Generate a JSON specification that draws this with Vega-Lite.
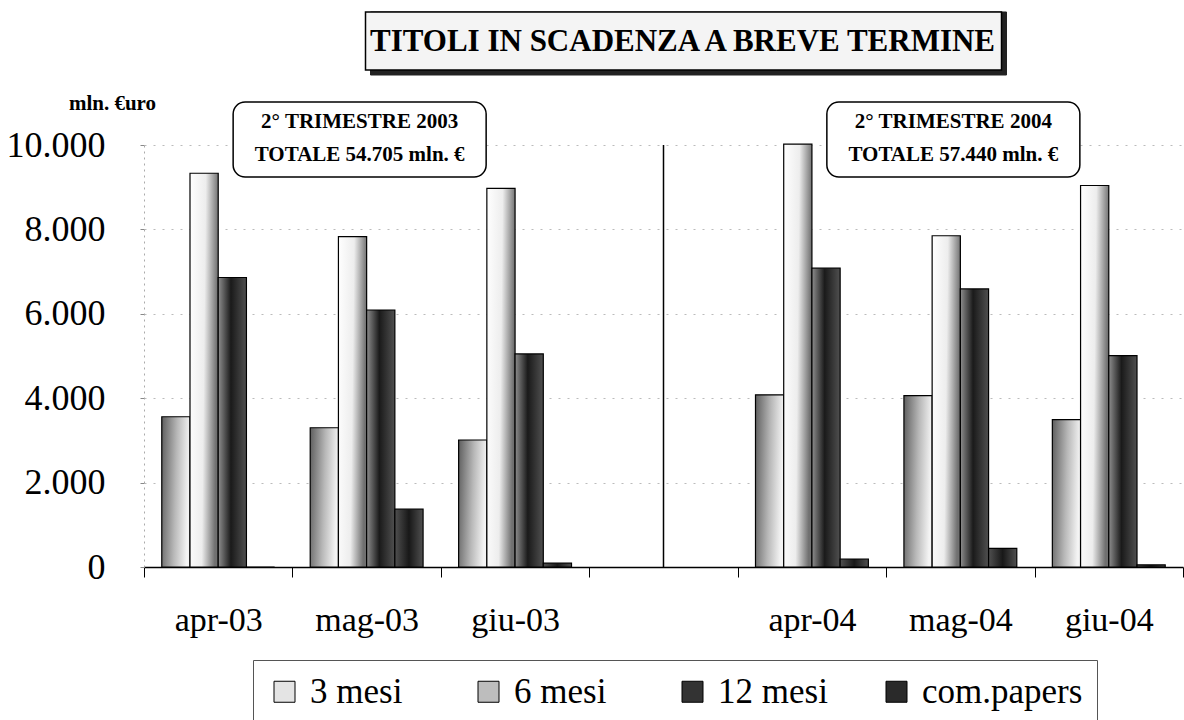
{
  "$schema": "https://vega.github.io/schema/vega-lite/v6.json",
  "autosize": "none",
  "width": 1039,
  "height": 422,
  "padding": {"left": 144, "top": 145, "right": 1, "bottom": 153},
  "background": "white",
  "config": {"view": {"stroke": null}},
  "title": {
    "text": "TITOLI IN SCADENZA A BREVE TERMINE",
    "font": "Liberation Serif",
    "fontSize": 31,
    "fontWeight": "bold",
    "color": "black",
    "anchor": "middle",
    "frame": "group",
    "baseline": "middle",
    "dx": 19,
    "offset": -62
  },
  "datasets": {
    "bars": [
      {"month": "apr-03", "series": "3 mesi", "value": 3560},
      {"month": "apr-03", "series": "6 mesi", "value": 9330},
      {"month": "apr-03", "series": "12 mesi", "value": 6860},
      {"month": "apr-03", "series": "com.papers", "value": 0},
      {"month": "mag-03", "series": "3 mesi", "value": 3300},
      {"month": "mag-03", "series": "6 mesi", "value": 7830},
      {"month": "mag-03", "series": "12 mesi", "value": 6090},
      {"month": "mag-03", "series": "com.papers", "value": 1370},
      {"month": "giu-03", "series": "3 mesi", "value": 3010},
      {"month": "giu-03", "series": "6 mesi", "value": 8970},
      {"month": "giu-03", "series": "12 mesi", "value": 5050},
      {"month": "giu-03", "series": "com.papers", "value": 90},
      {"month": "apr-04", "series": "3 mesi", "value": 4080},
      {"month": "apr-04", "series": "6 mesi", "value": 10020},
      {"month": "apr-04", "series": "12 mesi", "value": 7080},
      {"month": "apr-04", "series": "com.papers", "value": 190},
      {"month": "mag-04", "series": "3 mesi", "value": 4060},
      {"month": "mag-04", "series": "6 mesi", "value": 7850},
      {"month": "mag-04", "series": "12 mesi", "value": 6590},
      {"month": "mag-04", "series": "com.papers", "value": 440},
      {"month": "giu-04", "series": "3 mesi", "value": 3490},
      {"month": "giu-04", "series": "6 mesi", "value": 9040},
      {"month": "giu-04", "series": "12 mesi", "value": 5010},
      {"month": "giu-04", "series": "com.papers", "value": 50}
    ],
    "notes": [
      {"month": "mag-03", "label": "2° TRIMESTRE 2003\nTOTALE  54.705 mln. €"},
      {"month": "mag-04", "label": "2° TRIMESTRE 2004\nTOTALE  57.440 mln. €"}
    ],
    "single": [{"key": "frame"}]
  },
  "encoding": {
    "x": {
      "field": "month",
      "type": "nominal",
      "scale": {
        "domain": ["apr-03", "mag-03", "giu-03", " ", "apr-04", "mag-04", "giu-04"],
        "paddingInner": 0,
        "paddingOuter": 0
      },
      "axis": {
        "title": null,
        "labelAngle": 0,
        "labelFont": "Liberation Serif",
        "labelFontSize": 34,
        "labelColor": "black",
        "labelPadding": 26,
        "tickBand": "extent",
        "tickSize": 10,
        "tickColor": "black",
        "domainColor": "black",
        "domainWidth": 1.5,
        "grid": false
      }
    }
  },
  "layer": [
    {
      "data": {"name": "bars"},
      "mark": {"type": "bar", "stroke": "black", "strokeWidth": 1.2},
      "encoding": {
        "xOffset": {
          "field": "series",
          "type": "nominal",
          "scale": {"domain": ["3 mesi", "6 mesi", "12 mesi", "com.papers"], "paddingInner": 0, "paddingOuter": 0.63}
        },
        "y": {
          "field": "value",
          "type": "quantitative",
          "scale": {"domain": [0, 10000], "nice": false},
          "axis": {
            "values": [0, 2000, 4000, 6000, 8000, 10000],
            "labelExpr": "replace(format(datum.value, ','), ',', '.')",
            "labelFont": "Liberation Serif",
            "labelFontSize": 36,
            "labelColor": "black",
            "labelPadding": 35,
            "ticks": true,
            "tickSize": 4,
            "tickColor": "#888",
            "domainColor": "#aaa",
            "domainDash": [2, 4],
            "grid": true,
            "gridColor": "#bbb",
            "gridDash": [2, 7],
            "title": "mln. €uro",
            "titleAngle": 0,
            "titleFont": "Liberation Serif",
            "titleFontSize": 21,
            "titleFontWeight": "bold",
            "titleColor": "black",
            "titleAlign": "center",
            "titleBaseline": "middle",
            "titleX": -32,
            "titleY": -42
          }
        },
        "fill": {
          "field": "series",
          "type": "nominal",
          "condition": [
            {"test": "datum.series === '3 mesi'", "value": {"gradient": "linear", "x1": 0, "y1": 0, "x2": 1, "y2": 0.15, "stops": [{"offset": 0, "color": "#5e5e5e"}, {"offset": 0.55, "color": "#b8b8b8"}, {"offset": 1, "color": "#f4f4f4"}]}},
            {"test": "datum.series === '6 mesi'", "value": {"gradient": "linear", "x1": 0, "y1": 0, "x2": 1, "y2": 0.15, "stops": [{"offset": 0, "color": "#ffffff"}, {"offset": 0.55, "color": "#ededed"}, {"offset": 1, "color": "#707070"}]}},
            {"test": "datum.series === '12 mesi'", "value": {"gradient": "linear", "x1": 0, "y1": 0, "x2": 1, "y2": 0, "stops": [{"offset": 0, "color": "#8e8e8e"}, {"offset": 0.45, "color": "#1a1a1a"}, {"offset": 1, "color": "#505050"}]}},
            {"test": "datum.series === 'com.papers'", "value": {"gradient": "linear", "x1": 0, "y1": 0, "x2": 1, "y2": 0, "stops": [{"offset": 0, "color": "#505050"}, {"offset": 0.5, "color": "#181818"}, {"offset": 1, "color": "#505050"}]}}
          ],
          "scale": {
            "domain": ["3 mesi", "6 mesi", "12 mesi", "com.papers"],
            "range": ["#e4e4e4", "#bdbdbd", "#333333", "#2a2a2a"]
          },
          "legend": {
            "title": null,
            "orient": "none",
            "legendX": 109,
            "legendY": 515,
            "direction": "horizontal",
            "columns": 4,
            "gridAlign": "all",
            "symbolType": "square",
            "symbolSize": 441,
            "symbolStrokeColor": "black",
            "symbolStrokeWidth": 1,
            "labelFont": "Liberation Serif",
            "labelFontSize": 35,
            "labelColor": "black",
            "labelOffset": 8,
            "labelLimit": 300,
            "columnPadding": 0,
            "padding": 14,
            "strokeColor": "#555",
            "fillColor": "white"
          }
        }
      }
    },
    {
      "data": {"name": "single"},
      "mark": {"type": "rule", "stroke": "black", "strokeWidth": 1.5},
      "encoding": {
        "x": {"datum": " "},
        "y": {"datum": 0, "type": "quantitative"},
        "y2": {"datum": 10000}
      }
    },
    {
      "data": {"name": "notes"},
      "mark": {"type": "bar", "width": 253, "xOffset": -7, "cornerRadius": 12, "fill": "white", "stroke": "black", "strokeWidth": 1.5},
      "encoding": {
        "y": {"datum": 9242, "type": "quantitative"},
        "y2": {"datum": 11019}
      }
    },
    {
      "data": {"name": "notes"},
      "mark": {"type": "text", "dx": -7, "lineBreak": "\n", "lineHeight": 33, "font": "Liberation Serif", "fontSize": 21, "fontWeight": "bold", "color": "black", "align": "center", "baseline": "middle"},
      "encoding": {
        "y": {"datum": 10545, "type": "quantitative"},
        "text": {"field": "label", "type": "nominal"}
      }
    },
    {
      "data": {"name": "single"},
      "mark": {"type": "bar", "width": 636, "xOffset": 25, "yOffset": 5, "fill": "#222", "stroke": "#222"},
      "encoding": {
        "x": {"datum": " "},
        "y": {"datum": 11777, "type": "quantitative"},
        "y2": {"datum": 13152}
      }
    },
    {
      "data": {"name": "single"},
      "mark": {"type": "bar", "width": 636, "xOffset": 20, "fill": "#f4f4f4", "stroke": "black", "strokeWidth": 1.5},
      "encoding": {
        "x": {"datum": " "},
        "y": {"datum": 11777, "type": "quantitative"},
        "y2": {"datum": 13152}
      }
    }
  ]
}
